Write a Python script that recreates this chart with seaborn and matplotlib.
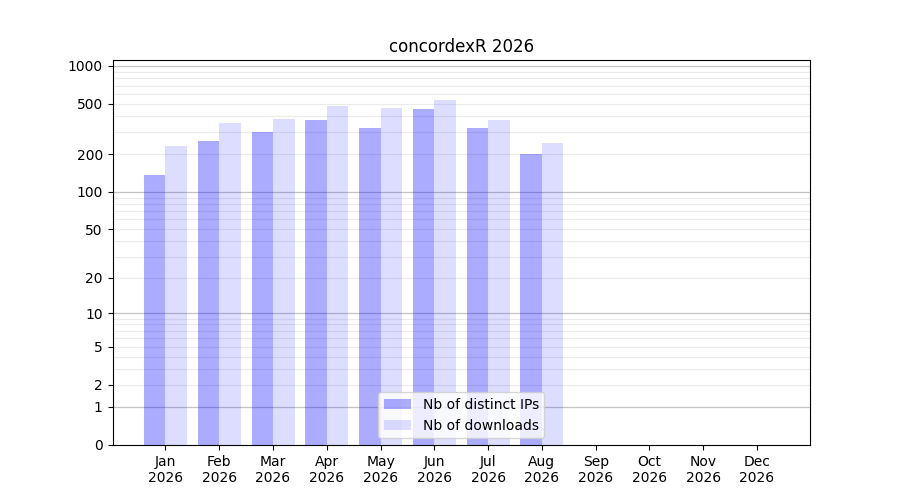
import numpy as np
import pandas as pd
import matplotlib
matplotlib.use("Agg")
import matplotlib.pyplot as plt
import seaborn as sns

months = ["Jan", "Feb", "Mar", "Apr", "May", "Jun", "Jul", "Aug", "Sep", "Oct", "Nov", "Dec"]
year = "2026"
distinct_ips = [137, 256, 297, 370, 320, 452, 320, 199, 0, 0, 0, 0]
downloads = [230, 350, 377, 478, 461, 533, 370, 247, 0, 0, 0, 0]
ytick_values = [0, 1, 2, 5, 10, 20, 50, 100, 200, 500, 1000]
series_labels = ["Nb of distinct IPs", "Nb of downloads"]

plt.style.use("default")
plt.rcParams['font.family'] = ['DejaVu Sans']

df = pd.DataFrame({
    "month": months * 2,
    "value": distinct_ips + downloads,
    "series": [series_labels[0]] * 12 + [series_labels[1]] * 12,
})

fig, ax = plt.subplots(figsize=(9, 5), dpi=100)
fig.subplots_adjust(left=0.125, right=0.9, top=0.88, bottom=0.11)

ax.set_yscale('function', functions=(lambda y: np.log10(1 + np.clip(y, 0, None)),
                                     lambda y: 10 ** y - 1))

sns.barplot(data=df, x="month", y="value", hue="series", order=months,
            hue_order=series_labels, palette=["#0000ff", "#0000ff"],
            saturation=1, width=0.8, ax=ax, legend=False, zorder=2)

for patch in ax.containers[0]:
    patch.set_alpha(0.33)
    patch.set_edgecolor("none")
for patch in ax.containers[1]:
    patch.set_alpha(0.133)
    patch.set_edgecolor("none")

# gridlines
minor_vals = [m * 10 ** e for e in range(0, 3) for m in range(2, 10)]
for v in minor_vals:
    ax.axhline(v, color="#ebebeb", lw=0.8, zorder=0)
for v in [1, 10, 100, 1000]:
    ax.axhline(v, color="#c4c4c4", lw=0.9, zorder=0)

ax.set_ylim(0, 1115)
ax.set_xlim(-0.985, 11.985)
ax.set_yticks(ytick_values)
ax.set_yticklabels([str(v) for v in ytick_values])
ax.yaxis.set_minor_locator(matplotlib.ticker.NullLocator())
ax.set_xticks(range(12))
ax.set_xticklabels([f"{m}\n{year}" for m in months])
ax.set_xlabel("")
ax.set_ylabel("")
ax.tick_params(labelsize=10)
ax.set_title("concordexR 2026", fontsize=12)

ax.legend(ax.containers, series_labels, loc="lower center", fontsize=10)

fig.savefig("out.png", dpi=100)
